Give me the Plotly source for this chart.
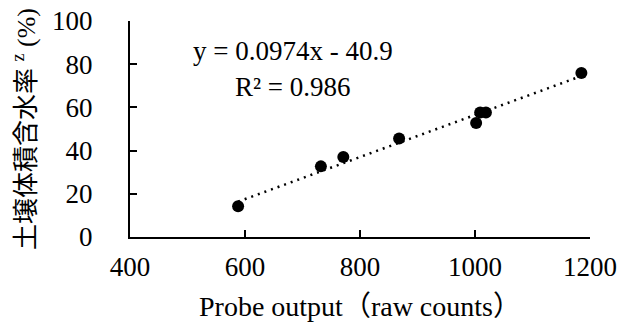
import plotly.graph_objects as go

# Data
probe_counts = [588, 732, 771, 868, 1002, 1009, 1019, 1185]
water_content = [14.2, 32.7, 37.0, 45.6, 52.8, 57.6, 57.6, 75.9]

slope = 0.0974
intercept = -40.9
eq_label = "y = 0.0974x - 40.9"
r2_label = "R² = 0.986"

x_ticks = [400, 600, 800, 1000, 1200]
y_ticks = [0, 20, 40, 60, 80, 100]

serif = "Liberation Serif"
mixed = "Liberation Serif, Noto Sans CJK JP"

tx = [min(probe_counts), max(probe_counts)]
ty = [slope * v + intercept for v in tx]

fig = go.Figure()
fig.add_trace(go.Scatter(
    x=tx, y=ty, mode="lines",
    line=dict(color="black", width=2.5, dash="2px,5px"),
    hoverinfo="skip", showlegend=False,
))
fig.add_trace(go.Scatter(
    x=probe_counts, y=water_content, mode="markers",
    marker=dict(color="black", size=12),
    showlegend=False,
))

fig.add_annotation(x=684, y=86.0, xref="x", yref="y", text=eq_label,
                   showarrow=False, xanchor="center", yanchor="middle",
                   font=dict(family=serif, size=27, color="black"))
fig.add_annotation(x=684, y=69.3, xref="x", yref="y", text=r2_label,
                   showarrow=False, xanchor="center", yanchor="middle",
                   font=dict(family=serif, size=27, color="black"))

fig.update_xaxes(
    range=[400, 1200], tickvals=x_ticks, ticktext=[str(v) for v in x_ticks],
    showline=True, linecolor="black", linewidth=2,
    ticks="inside", ticklen=7, tickwidth=2, tickcolor="black",
    showgrid=False, zeroline=False, automargin=False,
    tickfont=dict(family=serif, size=27, color="black"),
    ticklabelstandoff=5, ticklabeloverflow="allow",
    title=dict(text="Probe output（raw counts）", font=dict(family=mixed, size=28, color="black"), standoff=15),
)
fig.update_yaxes(
    range=[0, 100], tickvals=y_ticks, ticktext=[str(v) for v in y_ticks],
    showline=True, linecolor="black", linewidth=2,
    ticks="inside", ticklen=7, tickwidth=2, tickcolor="black",
    showgrid=False, zeroline=False, automargin=False,
    tickfont=dict(family=serif, size=27, color="black"),
    ticklabelstandoff=30, ticklabeloverflow="allow",
    title=dict(text="土壌体積含水率 <sup>z</sup> (%)", font=dict(family=mixed, size=26, color="black"), standoff=13),
)

fig.update_layout(
    width=636, height=323,
    margin=dict(l=122, r=54, t=13, b=94, pad=0),
    paper_bgcolor="white", plot_bgcolor="white",
)

fig.write_html("out.html")
